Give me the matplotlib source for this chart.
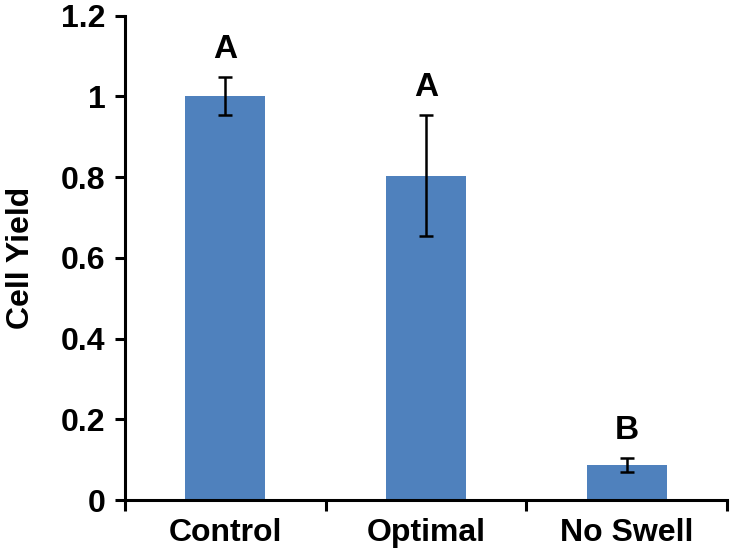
import numpy as np
import matplotlib.pyplot as plt
from matplotlib.ticker import FuncFormatter

plt.rcParams['font.family'] = ['Liberation Sans', 'DejaVu Sans']
plt.rcParams['font.weight'] = 'bold'

# data
groups = ["Control", "Optimal", "No Swell"]
yields = [1.0, 0.803, 0.087]
errors = [0.047, 0.15, 0.017]
letters = ["A", "A", "B"]

fig = plt.figure(figsize=(7.33, 5.56), dpi=100)
ax = fig.add_axes([0.1705, 0.1007, 0.8213, 0.8713])

x = np.arange(len(groups))
ax.bar(x, yields, width=0.4, color="#4F81BD", zorder=2)
ax.errorbar(x, yields, yerr=errors, fmt="none", ecolor="black",
            elinewidth=1.8, capsize=5, capthick=1.8, zorder=3)

for xi, y, e, lab in zip(x, yields, errors, letters):
    ax.annotate(lab, (xi, y + e), xytext=(0, 14), textcoords="offset points",
                ha="center", va="baseline", fontsize=24, fontweight="bold")

ax.set_xlim(-0.5, 2.5)
ax.set_ylim(0, 1.2)
ax.set_yticks(np.arange(0, 1.21, 0.2))
ax.yaxis.set_major_formatter(FuncFormatter(lambda v, p: f"{v:g}"))

# tick marks at category boundaries, labels centred under bars
ax.set_xticks([-0.5, 0.5, 1.5, 2.5])
ax.set_xticklabels([])
ax.set_xticks(x, minor=True)
ax.set_xticklabels(groups, minor=True)
ax.tick_params(axis="x", which="minor", length=0, pad=13, labelsize=23)
ax.tick_params(axis="x", which="major", length=8, width=2.2, direction="out")
ax.tick_params(axis="y", length=7, width=2.2, direction="out", labelsize=23, pad=7)

ax.set_ylabel("Cell Yield", fontsize=23, fontweight="bold", labelpad=18)

for s in ["top", "right"]:
    ax.spines[s].set_visible(False)
for s in ["left", "bottom"]:
    ax.spines[s].set_linewidth(2.2)

fig.savefig("out.png", dpi=100)
